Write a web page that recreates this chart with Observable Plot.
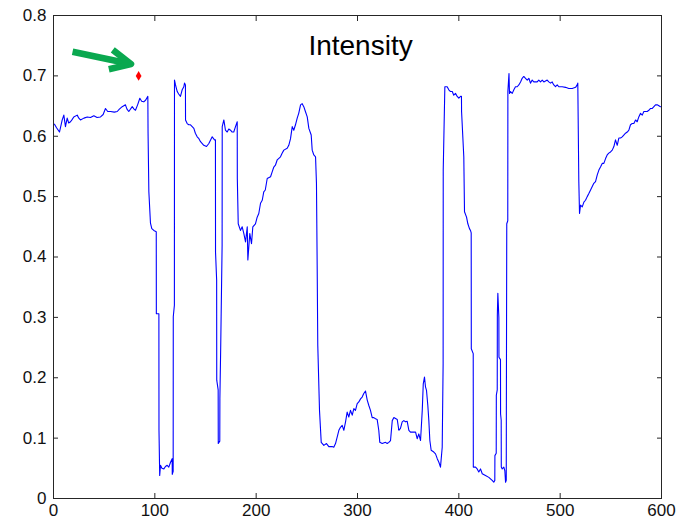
<!DOCTYPE html>
<html>
<head>
<meta charset="utf-8">
<script src="https://cdn.jsdelivr.net/npm/d3@7"></script>
<script src="https://cdn.jsdelivr.net/npm/@observablehq/plot@0.6"></script>
<style>
  html, body { margin: 0; padding: 0; background: #fff; }
  svg { display: block; }
</style>
</head>
<body>
<script>
// ---- data ----
const sampleX = [
  1,3,5.9,8.6,10.2,11.8,13.5,15,16.8,18.5,20,23.4,25,26.6,30,33.3,36.5,39.8,43,46.4,49,51.3,53.5,56.3,60,62.9,65,67.8,71,72.5,74.3,77.7,79.5,80.9,83,85.2,87,89.1,91,93.1,
  93.3,94.1,95.7,97,99,101.4,101.5,104,104.1,104.8,105.6,107,108.9,110.5,112.2,113.8,115.5,117.1,117.2,118.1,118.2,119.3,119.4,120.4,122.1,123.5,125.3,127,128.6,129.3,130.2,130.3,
  131.9,133.5,135.2,138.5,140,141.8,143.5,145.1,148.3,151,153.3,156.6,158.9,159.8,159.9,161,161.1,162.5,162.6,164.1,164.2,165,166.4,166.5,168.1,169.7,171.4,173,174.7,176.3,177.9,179.6,181.3,181.4,
  182.3,184.5,186.2,187.8,189.5,191.2,191.8,193.7,195.4,196.7,199.3,201,202.6,204.3,206,207.5,209,210.9,214.2,215.8,217.4,219,220.8,224,225.6,227.3,230.6,232.2,233.9,235.6,237.1,238.8,240.5,242,243.8,245.4,247,248.6,250.4,252,254.3,255.3,256.9,258.6,259.5,260.2,260.8,262.5,264.2,
  266.8,269.4,271.7,275,276.6,278.3,280,281.6,283.2,284.9,286.5,288.2,289.8,291.4,293.1,294.8,296.4,298,299.7,301.3,303,304.6,306.2,307.9,309.6,311.2,312.8,314.5,316.1,317.8,319.4,321,322,324.4,327.6,329.3,330.9,332.6,334.3,335.9,339.2,340.8,342.4,344.1,345.7,347.4,349,350.7,352.3,355.6,357.3,358.9,360.5,362.2,362.9,363.9,364.9,366.1,367.1,368.1,369.4,370.4,371.4,372.7,375.3,377,378.7,380.3,381.9,383.6,384.5,384.6,
  386.2,388.5,390.1,391.8,393.5,395,396.7,398.4,400,401.7,402.6,402.7,404.9,405.6,407.6,408.9,410.5,411.5,412.2,412.3,414.2,414.3,416.5,418.1,419.7,421.4,423.1,426.3,429.6,432.9,434.5,435.5,435.6,436.9,437,437.9,438,438.5,439.5,439.6,441.1,441.2,441.8,441.9,442.8,444.4,445.4,446.1,446.8,446.9,447.3,448.3,448.4,449.5,450,
  451,452.7,454.3,455.9,457.6,459.2,460.9,462.5,464.1,465.8,467.5,469.1,470.7,472.4,474,477.3,478.9,480.6,482.3,483.9,487.2,488.8,490.5,492.1,493.7,495.4,497.1,498.7,502,505.3,508.5,511.9,515.2,516.8,517.4,518.4,519.1,
  520.1,521.8,523.4,525,526.7,528.3,530,533.2,534.9,536.6,538.2,539.8,541.5,543.1,544.8,546.4,548,549.7,551.4,553,554.6,556.3,557.9,559.6,561.2,562.8,564.5,566.2,567.8,569.4,571.1,572.7,574.4,576,577.6,579.3,581,582.6,585.9,587.5,589.2,590.9,592.5,594.1,595.8,599
];
const intensity = [
  0.620,0.614,0.607,0.627,0.635,0.616,0.630,0.622,0.624,0.628,0.632,0.635,0.630,0.627,0.630,0.632,0.631,0.634,0.631,0.632,0.636,0.646,0.641,0.641,0.640,0.641,0.645,0.649,0.652,0.645,0.641,0.649,0.645,0.643,0.652,0.663,0.658,0.657,0.660,0.666,
  0.607,0.508,0.456,0.447,0.444,0.442,0.306,0.306,0.113,0.038,0.055,0.050,0.049,0.053,0.055,0.052,0.060,0.066,0.040,0.045,0.301,0.320,0.693,0.685,0.674,0.670,0.666,0.677,0.682,0.688,0.685,0.627,
  0.621,0.619,0.619,0.613,0.605,0.599,0.596,0.591,0.585,0.583,0.588,0.599,0.594,0.594,0.408,0.362,0.196,0.180,0.091,0.095,0.166,0.250,0.420,0.616,0.627,0.610,0.607,0.612,0.610,0.607,0.607,0.616,0.624,0.530,
  0.455,0.444,0.450,0.439,0.425,0.450,0.395,0.439,0.422,0.450,0.455,0.466,0.472,0.489,0.494,0.508,0.511,0.530,0.533,0.541,0.549,0.552,0.561,0.566,0.572,0.577,0.580,0.585,0.596,0.616,0.610,0.619,0.630,0.638,0.652,0.654,0.649,0.641,0.632,0.613,0.602,0.577,0.569,0.566,0.522,0.386,0.254,0.146,0.093,
  0.088,0.091,0.086,0.086,0.085,0.091,0.102,0.113,0.118,0.121,0.113,0.127,0.143,0.135,0.146,0.138,0.149,0.146,0.157,0.160,0.165,0.168,0.174,0.178,0.163,0.154,0.146,0.134,0.134,0.132,0.131,0.113,0.093,0.091,0.093,0.091,0.093,0.096,0.129,0.134,0.131,0.113,0.116,0.127,0.129,0.127,0.128,0.113,0.110,0.110,0.110,0.099,0.107,0.096,0.116,0.146,0.190,0.201,0.185,0.179,0.154,0.129,0.096,0.080,0.077,0.074,0.066,0.060,0.052,0.085,0.223,0.544,
  0.682,0.682,0.677,0.674,0.674,0.668,0.671,0.666,0.663,0.666,0.666,0.641,0.566,0.475,0.466,0.455,0.447,0.444,0.440,0.248,0.240,0.052,0.052,0.049,0.044,0.049,0.041,0.038,0.035,0.030,0.027,0.030,0.071,0.075,0.171,0.180,0.303,0.340,0.300,0.234,0.230,0.140,0.130,0.052,0.049,0.052,0.046,0.027,0.030,0.146,0.455,0.460,0.674,0.704,0.671,
  0.674,0.671,0.677,0.682,0.682,0.685,0.690,0.696,0.699,0.696,0.693,0.696,0.688,0.693,0.690,0.690,0.693,0.690,0.693,0.690,0.693,0.690,0.688,0.690,0.685,0.682,0.685,0.682,0.682,0.681,0.679,0.679,0.681,0.685,0.688,0.525,0.472,
  0.486,0.483,0.491,0.494,0.500,0.505,0.511,0.522,0.525,0.536,0.544,0.549,0.555,0.555,0.563,0.569,0.572,0.574,0.577,0.583,0.594,0.585,0.597,0.597,0.599,0.602,0.605,0.607,0.610,0.619,0.621,0.621,0.627,0.624,0.632,0.638,0.635,0.641,0.641,0.643,0.646,0.646,0.649,0.652,0.652,0.649
];
const xTicks = [0, 100, 200, 300, 400, 500, 600];
const xTickLabels = ["0", "100", "200", "300", "400", "500", "600"];
const yTicks = [0, 0.1, 0.2, 0.3, 0.4, 0.5, 0.6, 0.7, 0.8];
const yTickLabels = ["0", "0.1", "0.2", "0.3", "0.4", "0.5", "0.6", "0.7", "0.8"];

// annotation
const titleText = ["Intensity"];
const titleX = [303];
const titleY = [0.75];
const markerX = [84];
const markerY = [0.700];
const arrowShaftX = [18.8, 74];
const arrowShaftY = [0.740, 0.7205];
const arrowHeadX = [58.5, 76.5, 54.6];
const arrowHeadY = [0.743, 0.7195, 0.711];

// ---- build tables ----
const series = sampleX.map((x, i) => ({x, y: intensity[i]}));
const shaft = arrowShaftX.map((x, i) => ({x, y: arrowShaftY[i]}));
const head = arrowHeadX.map((x, i) => ({x, y: arrowHeadY[i]}));
const marker = markerX.map((x, i) => ({x, y: markerY[i]}));
const title = titleText.map((t, i) => ({t, x: titleX[i], y: titleY[i]}));

const fmtX = d => xTickLabels[xTicks.indexOf(d)];
const fmtY = d => yTickLabels[yTicks.indexOf(d)];
const axisColor = "#262626";
const tk = 5; // inward tick length (px)

const chart = Plot.plot({
  width: 683,
  height: 525,
  marginLeft: 53,
  marginRight: 22,
  marginTop: 15,
  marginBottom: 27,
  x: {domain: [0, 600]},
  y: {domain: [0, 0.8]},
  style: {fontFamily: "'Liberation Sans', Arial, sans-serif", fontSize: "17px", color: "#000", background: "#fff"},
  marks: [
    Plot.axisX(xTicks, {anchor: "bottom", tickSize: 0, tickPadding: 5, tickFormat: fmtX, label: null, fontSize: 17, fill: "#111"}),
    Plot.axisY(yTicks, {anchor: "left", tickSize: 0, tickPadding: 7, tickFormat: fmtY, label: null, fontSize: 17, fill: "#111"}),
    Plot.axisX(xTicks, {anchor: "bottom", tickSize: tk, dy: -tk, tickFormat: () => "", label: null, stroke: axisColor}),
    Plot.axisX(xTicks, {anchor: "top", tickSize: tk, dy: tk, tickFormat: () => "", label: null, stroke: axisColor}),
    Plot.axisY(yTicks, {anchor: "left", tickSize: tk, dx: tk, tickFormat: () => "", label: null, stroke: axisColor}),
    Plot.axisY(yTicks, {anchor: "right", tickSize: tk, dx: -tk, tickFormat: () => "", label: null, stroke: axisColor}),
    Plot.frame({stroke: axisColor, strokeWidth: 1}),
    Plot.line(series, {x: "x", y: "y", stroke: "#0000ff", strokeWidth: 1.1, curve: "linear"}),
    Plot.line(shaft, {x: "x", y: "y", stroke: "#0aa84f", strokeWidth: 6.5, strokeLinecap: "butt"}),
    Plot.line(head, {x: "x", y: "y", stroke: "#0aa84f", strokeWidth: 6.5, strokeLinecap: "butt", strokeLinejoin: "round"}),
    Plot.dot(marker, {x: "x", y: "y", symbol: "diamond", r: 3, fill: "#ff0000", stroke: "none"}),
    Plot.text(title, {x: "x", y: "y", text: "t", fontSize: 28, fill: "#000", textAnchor: "middle"})
  ]
});
document.body.appendChild(chart);
</script>
</body>
</html>
